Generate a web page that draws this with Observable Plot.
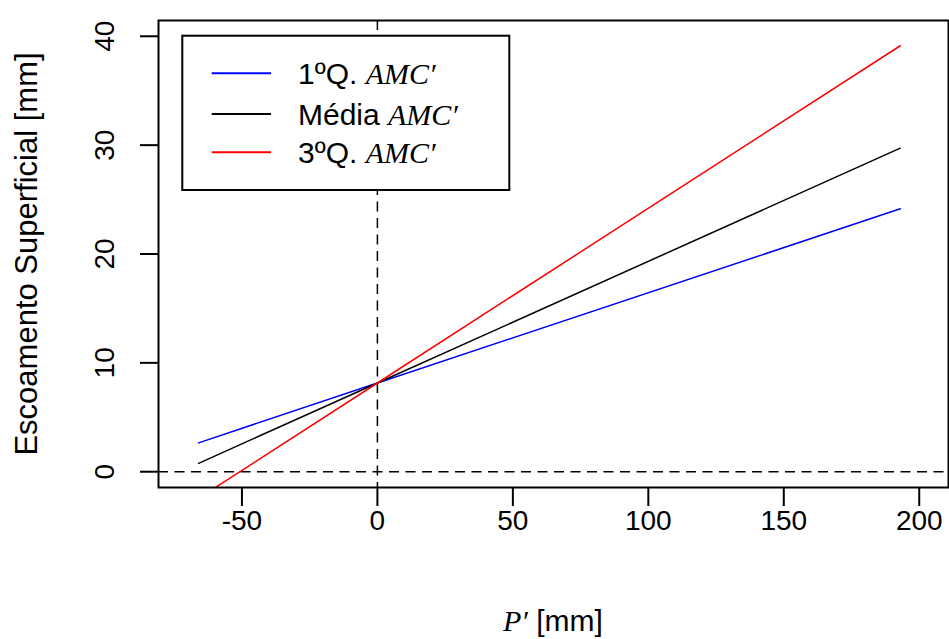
<!DOCTYPE html>
<html><head><meta charset="utf-8">
<script src="https://cdn.jsdelivr.net/npm/d3@7"></script>
<script src="https://cdn.jsdelivr.net/npm/@observablehq/plot@0.6"></script>
<style>body{margin:0;background:#fff}</style>
</head><body><div id="chart"></div>
<script>
const pValues = [-66, 0, 193];
const q1Values = [2.65, 8.15, 24.15];
const meanValues = [0.77, 8.15, 29.72];
const q3Values = [-2.44, 8.15, 39.13];
const seriesNames = ["1ºQ.", "Média", "3ºQ."];
const seriesColors = ["blue", "black", "red"];
const xTicks = [-50, 0, 50, 100, 150, 200];
const yTicks = [0, 10, 20, 30, 40];
const yTitle = "Escoamento Superficial [mm]";

const rows = [];
[q1Values, meanValues, q3Values].forEach((vals, i) =>
  vals.forEach((v, j) => rows.push({series: seriesNames[i], p: pValues[j], r: v})));

const svg = Plot.plot({
  width: 949, height: 639,
  marginLeft: 158, marginRight: 1, marginTop: 20, marginBottom: 152,
  style: {fontFamily: "'Liberation Sans', Arial, sans-serif", fontSize: "28px", background: "white", color: "black", overflow: "visible"},
  x: {domain: [-80.8, 210.8]},
  y: {domain: [-1.45, 41.45]},
  color: {domain: seriesNames, range: seriesColors},
  marks: [
    Plot.ruleY([0], {stroke: "black", strokeWidth: 1.5, strokeDasharray: "10,6.5"}),
    Plot.ruleX([0], {stroke: "black", strokeWidth: 1.5, strokeDasharray: "10,6.5"}),
    Plot.line(rows, {x: "p", y: "r", z: "series", stroke: "series", strokeWidth: 1.5, clip: true}),
    Plot.frame({stroke: "black", strokeWidth: 2}),
    Plot.axisX({ticks: xTicks, tickSize: 19, tickPadding: 4, tickFormat: d => String(d), label: null, strokeWidth: 2, fontSize: 28}),
    Plot.axisY({ticks: yTicks, tickSize: 18, tickRotate: -90, tickPadding: 27, tickFormat: d => String(d), label: null, strokeWidth: 2, fontSize: 28}),
    Plot.text([yTitle], {frameAnchor: "left", textAnchor: "middle", rotate: -90, dx: -131, fontSize: 31, text: d => d})
  ]
});
document.getElementById("chart").appendChild(svg);

const s = d3.select(svg);
// x title
const xt = s.append("text").attr("x", 553).attr("y", 631).attr("text-anchor", "middle")
  .attr("font-size", 30).attr("fill", "black");
xt.append("tspan").attr("font-family", "'Liberation Serif', serif").attr("font-style", "italic").text("P′");
xt.append("tspan").attr("font-family", "'Liberation Sans', Arial, sans-serif").text(" [mm]");

// legend
const lg = s.append("g");
lg.append("rect").attr("x", 182.3).attr("y", 35.7).attr("width", 327).attr("height", 154.3)
  .attr("fill", "white").attr("stroke", "black").attr("stroke-width", 2);
const ly = [73.3, 114, 152.3];
seriesNames.forEach((n, i) => {
  lg.append("line").attr("x1", 211.7).attr("x2", 271).attr("y1", ly[i]).attr("y2", ly[i])
    .attr("stroke", seriesColors[i]).attr("stroke-width", 2);
  const t = lg.append("text").attr("x", 298).attr("y", ly[i] + 11).attr("font-size", 30)
    .attr("text-anchor", "start").attr("fill", "black");
  t.append("tspan").attr("font-family", "'Liberation Sans', Arial, sans-serif").text(n + " ");
  t.append("tspan").attr("font-family", "'Liberation Serif', serif").attr("font-style", "italic").text("AMC′");
});
</script></body></html>
